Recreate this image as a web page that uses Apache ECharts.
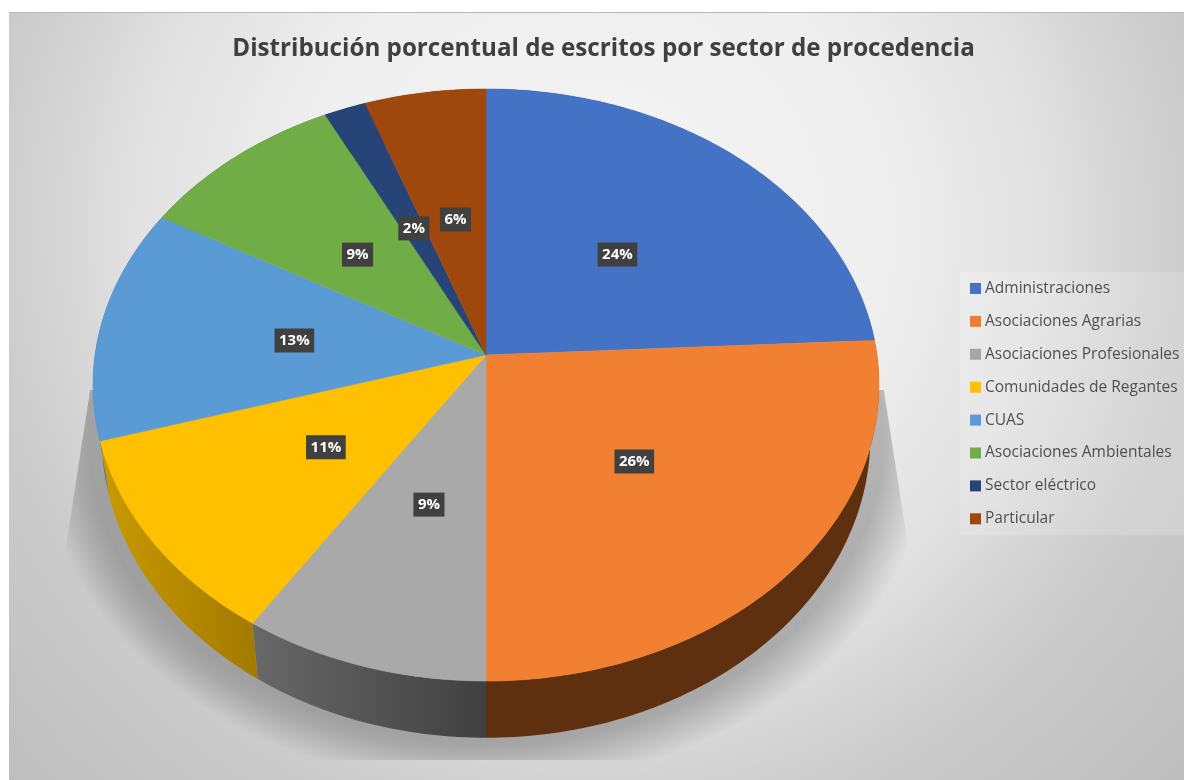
<!DOCTYPE html>
<html>
<head>
<meta charset="utf-8">
<title>Distribución porcentual de escritos</title>
<style>
  html, body { margin: 0; padding: 0; background: #fff; }
  #chart { width: 1184px; height: 780px; }
</style>
<script src="https://cdn.jsdelivr.net/npm/echarts@6/dist/echarts.min.js"></script>
</head>
<body>
<div id="chart"></div>
<script>
const titleText = 'Distribución porcentual de escritos por sector de procedencia'
const categories = ['Administraciones', 'Asociaciones Agrarias', 'Asociaciones Profesionales', 'Comunidades de Regantes', 'CUAS', 'Asociaciones Ambientales', 'Sector eléctrico', 'Particular']
const values = [24.2, 25.8, 9.2, 11.2, 12.8, 9.4, 1.9, 5.5]
const topColors = ['#4472c4', '#f28033', '#a9a9a9', '#ffc000', '#5b9bd5', '#70ad47', '#264478', '#9e480e']
const legendColors = ['#4472c4', '#ed7d31', '#a5a5a5', '#ffc000', '#5b9bd5', '#70ad47', '#264478', '#9e480e']
// side wall colours, [left, right]
const wallColors = [
  ['#2c4a80', '#2c4a80'], ['#5f3010', '#5f3010'], ['#686868', '#404040'], ['#c99a00', '#a27a00'],
  ['#3b6a94', '#3b6a94'], ['#4a7330', '#4a7330'], ['#192d50', '#192d50'], ['#672f09', '#672f09']
]

// tilted disc: unit circle seen in perspective
const cx = 486, cy = 355, rx = 391, ry = 293, persp = 0.1014, depth = 51
// the lower rim is further from the camera, so a bit narrower
const lowerRimScale = 0.978
const shadowLayers = 18
const total = values.reduce((a, b) => a + b, 0)

function project(angle, r, drop) {
  const x = Math.sin(angle) * r
  const y = -Math.cos(angle) * r
  const w = 1 / (1 - persp * y)
  return [cx + rx * x * w, cy + ry * y * w + drop * w]
}

function arc(a0, a1, drop, r) {
  const steps = Math.max(4, Math.ceil((a1 - a0) * 60))
  const pts = []
  for (let i = 0; i <= steps; i++) pts.push(project(a0 + (a1 - a0) * i / steps, r, drop))
  return pts
}

function floorShadow() {
  // stacked faint outlines give the soft falloff around the disc
  const layers = []
  for (let i = 0; i < shadowLayers; i++) {
    layers.push({
      type: 'polygon', z2: 0, silent: true,
      shape: { points: arc(0, Math.PI * 2, depth, 1.015 + i * 0.0065) },
      style: { fill: 'rgba(0,0,0,0.012)' }
    })
  }
  return {
    type: 'group',
    clipPath: { type: 'polygon', shape: { points: [[90, 390], [66, 545], [40, 760], [940, 760], [908, 545], [884, 390]] } },
    children: layers
  }
}

function renderSlice(params, api) {
  const idx = params.seriesIndex
  const before = values.slice(0, idx).reduce((a, b) => a + b, 0)
  const val = api.value(0)
  const a0 = before / total * Math.PI * 2
  const a1 = (before + val) / total * Math.PI * 2
  const mid = (a0 + a1) / 2

  const rim = arc(a0, a1, 0, 1)
  const bottom = arc(a0, a1, depth, 1).reverse().map(p => [cx + (p[0] - cx) * lowerRimScale, p[1]])
  const xs = rim.concat(bottom).map(p => p[0])
  const labelPos = project(mid, 0.5, 0)
  const children = []

  if (idx === 0) children.push(floorShadow())

  children.push({
    type: 'polygon', z2: 1,
    shape: { points: rim.concat(bottom) },
    style: {
      fill: {
        type: 'linear', global: true,
        x: Math.min(...xs), y: 0, x2: Math.max(...xs), y2: 0,
        colorStops: [
          { offset: 0, color: wallColors[idx][0] },
          { offset: 1, color: wallColors[idx][1] }
        ]
      }
    }
  })
  children.push({
    type: 'polygon', z2: 2,
    shape: { points: [project(0, 0, 0)].concat(rim) },
    style: { fill: topColors[idx], stroke: topColors[idx], lineWidth: 0.5 }
  })
  children.push({
    type: 'text', z2: 3,
    style: {
      x: labelPos[0] + 1.5, y: labelPos[1] + 2,
      text: Math.round(val) + '%',
      align: 'center', verticalAlign: 'middle',
      fill: '#fff',
      font: 'bold 15px "Open Sans"',
      backgroundColor: '#404040',
      padding: [5, 4.5, 4, 4.5],
      boxShadowBlur: 4,
      boxShadowColor: 'rgba(0,0,0,0.55)',
      boxShadowOffsetX: 2,
      boxShadowOffsetY: 2
    }
  })
  return { type: 'group', children: children }
}

const chart = echarts.init(document.getElementById('chart'))
chart.setOption({
  animation: false,
  textStyle: { fontFamily: '"Open Sans"' },
  title: {
    text: titleText,
    left: 598.5, top: 32, textAlign: 'center',
    textStyle: { fontSize: 24.2, fontWeight: 'bold', color: '#404040', fontFamily: '"Open Sans"' }
  },
  legend: {
    orient: 'vertical',
    left: 960, top: 272,
    padding: [6.5, 20, 6.5, 10],
    backgroundColor: 'rgba(255,255,255,0.17)',
    itemWidth: 11, itemHeight: 11,
    itemGap: 12.9,
    icon: 'rect',
    selectedMode: false,
    textStyle: { fontSize: 15.5, color: '#505050', padding: [0, 0, 0, -1], lineHeight: 20 },
    data: categories
  },
  graphic: [
    {
      type: 'rect', z: -10, silent: true,
      shape: { x: 9, y: 12, width: 1175, height: 768 },
      style: {
        fill: {
          type: 'radial', global: true, x: 590, y: 230, r: 830,
          colorStops: [
            { offset: 0, color: '#f5f5f5' },
            { offset: 0.36, color: '#eeeeee' },
            { offset: 0.54, color: '#e2e2e2' },
            { offset: 0.72, color: '#cccccc' },
            { offset: 1, color: '#bcbcbc' }
          ]
        }
      }
    },
    {
      type: 'line', z: -9, silent: true,
      shape: { x1: 9, y1: 12.5, x2: 1184, y2: 12.5 },
      style: { stroke: '#b8b8b8', lineWidth: 1 }
    }
  ],
  series: categories.map((name, i) => ({
    type: 'custom',
    name: name,
    coordinateSystem: 'none',
    renderItem: renderSlice,
    itemStyle: { color: legendColors[i] },
    data: [[values[i]]]
  }))
})
</script>
</body>
</html>
